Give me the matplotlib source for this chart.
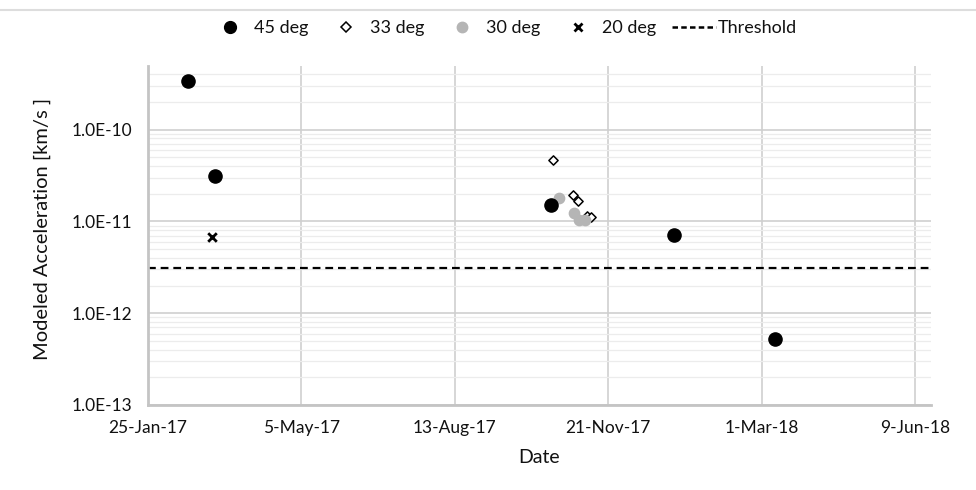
import datetime as dt
import matplotlib
matplotlib.use("Agg")
import matplotlib.pyplot as plt
import matplotlib.dates as mdates
from matplotlib.ticker import FixedLocator, FuncFormatter, LogLocator, NullFormatter
from matplotlib.lines import Line2D

plt.rcParams["font.family"] = ["Lato", "DejaVu Sans"]

# modeled acceleration per incidence angle
dates_45 = ["2017-02-20", "2017-03-10", "2017-10-15", "2018-01-03", "2018-03-10"]
accel_45 = [3.4e-10, 3.15e-11, 1.5e-11, 7.1e-12, 5.2e-13]

dates_33 = ["2017-10-16", "2017-10-29", "2017-11-01", "2017-11-07", "2017-11-10"]
accel_33 = [4.7e-11, 1.92e-11, 1.65e-11, 1.15e-11, 1.12e-11]

dates_30 = ["2017-10-20", "2017-10-30", "2017-11-02", "2017-11-06"]
accel_30 = [1.8e-11, 1.23e-11, 1.04e-11, 1.03e-11]

dates_20 = ["2017-03-08"]
accel_20 = [6.8e-12]

threshold = 3.1e-12

x_ticks = ["2017-01-25", "2017-05-05", "2017-08-13", "2017-11-21", "2018-03-01", "2018-06-09"]
y_ticks = [1e-13, 1e-12, 1e-11, 1e-10]

text_col = "#111111"


def to_num(days):
    return [mdates.date2num(dt.datetime.strptime(d, "%Y-%m-%d")) for d in days]


def date_label(v, pos):
    d = mdates.num2date(v)
    return f"{d.day}-{d.strftime('%b-%y')}"


fig = plt.figure(figsize=(9.76, 4.9), dpi=100)
ax = fig.add_axes([0.1516, 0.1735, 0.8024, 0.6915])

ax.scatter(to_num(dates_33), accel_33, marker="D", s=22, facecolor="white",
           edgecolor="black", linewidth=1.1, zorder=3, label="33 deg")
ax.scatter(to_num(dates_30), accel_30, marker="o", s=55, color="#b5b5b5",
           zorder=4, label="30 deg")
ax.scatter(to_num(dates_45), accel_45, marker="o", s=90, color="black",
           zorder=5, label="45 deg")
ax.scatter(to_num(dates_20), accel_20, marker="x", s=38, color="black",
           linewidth=2, zorder=5, label="20 deg")
ax.axhline(threshold, color="black", linestyle=(0, (3.5, 2.2)), linewidth=1.6,
           zorder=2)

ax.set_yscale("log")
xmin = to_num(["2017-01-25"])[0]
ax.set_xlim(xmin, xmin + 510.5)
ax.set_ylim(1e-13, 4.9e-10)

ax.xaxis.set_major_locator(FixedLocator(to_num(x_ticks)))
ax.xaxis.set_major_formatter(FuncFormatter(date_label))
ax.yaxis.set_major_locator(FixedLocator(y_ticks))
ax.yaxis.set_major_formatter(FuncFormatter(lambda v, p: "{:.1E}".format(v)))
ax.yaxis.set_minor_locator(LogLocator(base=10, subs=range(2, 10)))
ax.yaxis.set_minor_formatter(NullFormatter())

ax.grid(True, which="major", color="#cfcfcf", linewidth=1.2)
ax.grid(True, which="minor", axis="y", color="#ececec", linewidth=0.9)
ax.set_axisbelow(True)

for side in ["top", "right"]:
    ax.spines[side].set_visible(False)
for side in ["left", "bottom"]:
    ax.spines[side].set_color("#c4c4c4")
    ax.spines[side].set_linewidth(2)

ax.tick_params(which="both", length=0, labelsize=12.5, colors=text_col)
ax.tick_params(axis="x", pad=11)
ax.tick_params(axis="y", pad=11)

ax.set_xlabel("Date", fontsize=14, labelpad=9, color=text_col)
ax.set_ylabel("Modeled Acceleration [km/s ]", fontsize=14.5, color=text_col)
ax.yaxis.set_label_coords(-0.124, 0.52)

handles = [
    Line2D([], [], marker="o", color="black", linestyle="none", markersize=8.5),
    Line2D([], [], marker="D", markerfacecolor="white", markeredgecolor="black",
           markeredgewidth=1.1, linestyle="none", markersize=5),
    Line2D([], [], marker="o", color="#b5b5b5", linestyle="none", markersize=7.5),
    Line2D([], [], marker="x", color="black", markeredgewidth=2,
           linestyle="none", markersize=6),
    Line2D([], [], color="black", linestyle=(0, (2.2, 1.3)), linewidth=1.8),
]
labels = ["45 deg", "33 deg", "30 deg", "20 deg", "Threshold"]
leg = fig.legend(handles, labels, loc="center", bbox_to_anchor=(0.515, 0.942),
                 ncol=5, frameon=False, fontsize=13, handlelength=2.4,
                 handletextpad=0.12, columnspacing=0.9)
for t in leg.get_texts():
    t.set_color(text_col)

fig.add_artist(Line2D([0, 1], [1 - 10 / 490, 1 - 10 / 490],
                      color="#dddddd", linewidth=1.5))

fig.savefig("out.png", dpi=100, facecolor="white")
